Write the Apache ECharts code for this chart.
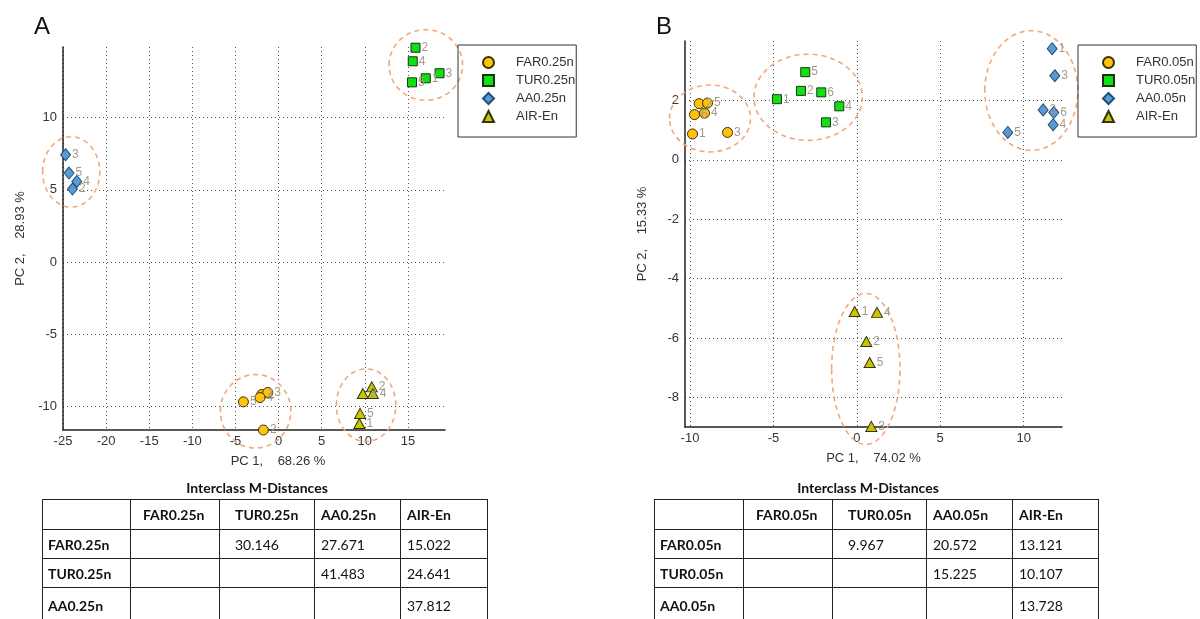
<!DOCTYPE html>
<html>
<head>
<meta charset="utf-8">
<title>PCA score plots and interclass M-distances</title>
<script src="https://cdn.jsdelivr.net/npm/echarts@6/dist/echarts.min.js"></script>
<style>
  html, body { margin: 0; padding: 0; background: #fff; }
  #wrap { position: relative; width: 1200px; height: 619px; overflow: hidden; }
  #chart { position: absolute; left: 0; top: 0; width: 1200px; height: 619px; }
  .ttl { position: absolute; font: bold 14px Lato, "Liberation Sans", sans-serif; color: #111;
         white-space: nowrap; transform: translate(-50%, -50%); }
  table.md { position: absolute; border-collapse: collapse; table-layout: fixed;
             font: 14px Lato, "Liberation Sans", sans-serif; color: #111; }
  table.md td { border: 1.5px solid #222; height: 28px; padding: 0 0 0 6px;
                white-space: nowrap; box-sizing: border-box; }
  table.md td.b { font-weight: bold; }
</style>
</head>
<body>
<div id="wrap">
  <div id="chart"></div>
</div>
<script>
// ---- PCA scores, panel A (0.25n) : [PC1, PC2, sample id]
const FAR_A = [[-1.95, -9.19, '1'], [-1.76, -11.65, '2'], [-1.25, -9.05, '3'], [-2.15, -9.40, '4'], [-4.08, -9.70, '5']];
const TUR_A = [[17.07, 12.73, '1'], [15.88, 14.85, '2'], [18.67, 13.08, '3'], [15.56, 13.91, '4'], [15.48, 12.45, '5']];
const AA_A  = [[-23.90, 5.05, '2'], [-24.70, 7.43, '3'], [-23.40, 5.58, '4'], [-24.30, 6.16, '5']];
const AIR_A = [[9.37, -11.20, '1'], [10.81, -8.66, '2'], [9.77, -9.12, '3'], [10.93, -9.12, '4'], [9.45, -10.50, '5']];

// ---- PCA scores, panel B (0.05n)
const FAR_B = [[-9.85, 0.87, '1'], [-9.45, 1.89, '2'], [-7.75, 0.92, '3'], [-9.13, 1.57, '4'], [-8.95, 1.91, '5'], [-9.73, 1.52, '6']];
const TUR_B = [[-4.79, 2.04, '1'], [-3.35, 2.32, '2'], [-1.85, 1.26, '3'], [-1.05, 1.80, '4'], [-3.09, 2.95, '5'], [-2.13, 2.27, '6']];
const AA_B  = [[11.71, 3.74, '1'], [11.17, 1.68, '2'], [11.87, 2.83, '3'], [11.77, 1.18, '4'], [9.05, 0.92, '5'], [11.81, 1.59, '6']];
const AIR_B = [[-0.13, -5.11, '1'], [0.57, -6.12, '2'], [0.87, -8.98, '3'], [1.21, -5.14, '4'], [0.77, -6.83, '5']];

// ---- class names
const NAMES_A = ['FAR0.25n', 'TUR0.25n', 'AA0.25n', 'AIR-En'];
const NAMES_B = ['FAR0.05n', 'TUR0.05n', 'AA0.05n', 'AIR-En'];

// ---- axis ticks
const XTICKS_A = [-25, -20, -15, -10, -5, 0, 5, 10, 15];
const YTICKS_A = [-10, -5, 0, 5, 10];
const XTICKS_B = [-10, -5, 0, 5, 10];
const YTICKS_B = [-8, -6, -4, -2, 0, 2];

// ---- axis titles
const XNAME_A = 'PC 1,    68.26 %';
const YNAME_A = 'PC 2,    28.93 %';
const XNAME_B = 'PC 1,    74.02 %';
const YNAME_B = 'PC 2,    15.33 %';

// ---- interclass Mahalanobis distances
const DIST_A = [[null, 30.146, 27.671, 15.022], [null, null, 41.483, 24.641], [null, null, null, 37.812]];
const DIST_B = [[null, 9.967, 20.572, 13.121], [null, null, 15.225, 10.107], [null, null, null, 13.728]];
const TABLE_TITLE = 'Interclass M-Distances';

// ---------------------------------------------------------------
const FONT = '"Liberation Sans", Arial, sans-serif';
const STYLES = [
  { symbol: 'circle',   size: 10,       color: '#ffc20e', border: '#3b3200' },
  { symbol: 'rect',     size: 9,        color: '#12e012', border: '#123512' },
  { symbol: 'diamond',  size: [10, 12], color: '#5b9bd5', border: '#1f4e79' },
  { symbol: 'triangle', size: [11, 10], color: '#c9c600', border: '#33330a' }
];

function pointSeries(name, data, k, axis) {
  const s = STYLES[k];
  return {
    type: 'scatter', name: name, xAxisIndex: axis, yAxisIndex: axis, z: 3,
    symbol: s.symbol, symbolSize: s.size, symbolKeepAspect: true,
    itemStyle: { color: s.color, borderColor: s.border, borderWidth: 1, opacity: 1 },
    label: {
      show: true, position: 'right', distance: 1,
      formatter: p => p.value[2], color: '#a69a86', fontSize: 12, fontFamily: FONT
    },
    emphasis: { disabled: true },
    data: data
  };
}

// bounding box of a cluster in data units
function clusterBox(pts) {
  const xs = pts.map(p => p[0]), ys = pts.map(p => p[1]);
  return [Math.min(...xs), Math.max(...xs), Math.min(...ys), Math.max(...ys)];
}

// dashed ellipse around each cluster, sized from its extent
function ellipseSeries(clusters, axis) {
  return {
    type: 'custom', xAxisIndex: axis, yAxisIndex: axis, silent: true, z: 2, clip: false,
    data: clusters.map(clusterBox),
    renderItem: function (params, api) {
      const a = api.coord([api.value(0), api.value(3)]);
      const b = api.coord([api.value(1), api.value(2)]);
      return {
        type: 'ellipse',
        shape: { cx: (a[0] + b[0]) / 2, cy: (a[1] + b[1]) / 2,
                 rx: (b[0] - a[0]) / 2 + 23, ry: (b[1] - a[1]) / 2 + 18 },
        style: { fill: null, stroke: '#f3a77a', lineWidth: 1.6, lineDash: [5, 4] }
      };
    }
  };
}

function xAxis(grid, min, max, ticks, name, shift) {
  return {
    type: 'value', gridIndex: grid, min: min, max: max,
    name: name, nameLocation: 'middle', nameGap: 25,
    nameTextStyle: { fontSize: 13, color: '#333', fontFamily: FONT, padding: [0, 0, 0, shift] },
    axisLine: { show: true, onZero: false, lineStyle: { color: '#222', width: 1.5 } },
    axisTick: { show: false, customValues: ticks },
    axisLabel: { customValues: ticks, fontSize: 13, color: '#333', fontFamily: FONT, margin: 5 },
    splitLine: { show: true, lineStyle: { color: '#555', width: 1, type: [1, 3] } }
  };
}
function yAxis(grid, min, max, ticks, name) {
  return {
    type: 'value', gridIndex: grid, min: min, max: max,
    name: name, nameLocation: 'middle', nameGap: 36, nameRotate: 90,
    nameTextStyle: { fontSize: 13, color: '#333', fontFamily: FONT },
    axisLine: { show: true, onZero: false, lineStyle: { color: '#222', width: 1.5 } },
    axisTick: { show: false, customValues: ticks },
    axisLabel: { customValues: ticks, fontSize: 13, color: '#333', fontFamily: FONT, margin: 6 },
    splitLine: { show: true, lineStyle: { color: '#555', width: 1, type: [1, 3] } }
  };
}
function legend(left, names) {
  return {
    show: true, orient: 'vertical', left: left, top: 45, data: names,
    borderColor: '#333', borderWidth: 1, padding: [11, 1, 14, 24],
    itemWidth: 11, itemHeight: 11, itemGap: 5,
    textStyle: { fontSize: 13, color: '#333', fontFamily: FONT, padding: [0, 0, 0, 17] },
    selectedMode: false
  };
}

const option = {
  animation: false,
  backgroundColor: '#fff',
  grid: [
    { left: 63,  top: 47, width: 382, height: 383 },
    { left: 685, top: 41, width: 377, height: 386 }
  ],
  xAxis: [
    xAxis(0, -25, 19.3, XTICKS_A, XNAME_A, 48),
    xAxis(1, -10.3, 12.3, XTICKS_B, XNAME_B, 0)
  ],
  yAxis: [
    yAxis(0, -11.65, 14.9, YTICKS_A, YNAME_A),
    yAxis(1, -9, 4, YTICKS_B, YNAME_B)
  ],
  legend: [legend(458, NAMES_A), legend(1078, NAMES_B)],
  graphic: [
    { type: 'text', left: 34, top: 15, style: { text: 'A', font: '24px ' + FONT, fill: '#111' } },
    { type: 'text', left: 656, top: 15, style: { text: 'B', font: '24px ' + FONT, fill: '#111' } }
  ],
  series: [
    ellipseSeries([FAR_A, TUR_A, AA_A, AIR_A], 0),
    ellipseSeries([FAR_B, TUR_B, AA_B, AIR_B], 1),
    pointSeries(NAMES_A[0], FAR_A, 0, 0),
    pointSeries(NAMES_A[1], TUR_A, 1, 0),
    pointSeries(NAMES_A[2], AA_A, 2, 0),
    pointSeries(NAMES_A[3], AIR_A, 3, 0),
    pointSeries(NAMES_B[0], FAR_B, 0, 1),
    pointSeries(NAMES_B[1], TUR_B, 1, 1),
    pointSeries(NAMES_B[2], AA_B, 2, 1),
    pointSeries(NAMES_B[3], AIR_B, 3, 1)
  ]
};

echarts.init(document.getElementById('chart'), null, { renderer: 'canvas' }).setOption(option);

// ---- distance tables
const wrap = document.getElementById('wrap');
function buildTable(left, colWidths, indents, names, dist, titleX) {
  const t = document.createElement('div');
  t.className = 'ttl';
  t.style.left = titleX + 'px';
  t.style.top = '487px';
  t.textContent = TABLE_TITLE;
  wrap.appendChild(t);

  const tbl = document.createElement('table');
  tbl.className = 'md';
  tbl.style.left = left + 'px';
  tbl.style.top = '499px';
  const cg = document.createElement('colgroup');
  colWidths.forEach(w => { const c = document.createElement('col'); c.style.width = w + 'px'; cg.appendChild(c); });
  tbl.appendChild(cg);

  const rows = [[''].concat(names)].concat(dist.map((r, i) => [names[i]].concat(r)));
  rows.forEach((r, ri) => {
    const tr = document.createElement('tr');
    r.forEach((v, ci) => {
      const td = document.createElement('td');
      if (ri === 0 || ci === 0) td.className = 'b';
      td.style.paddingLeft = indents[ci] + 'px';
      if (ri === rows.length - 1) td.style.height = '36px';
      else td.style.height = (ri === 0 ? 30 : 29) + 'px';
      td.textContent = (v === null || v === '') ? '' : (typeof v === 'number' ? v.toFixed(3) : v);
      tr.appendChild(td);
    });
    tbl.appendChild(tr);
  });
  wrap.appendChild(tbl);
}
buildTable(42, [88, 89, 95, 86, 87], [5, 12, 15, 6, 6], NAMES_A, DIST_A, 257);
buildTable(654, [89, 89, 94, 86, 86], [5, 12, 15, 6, 6], NAMES_B, DIST_B, 868);
</script>
</body>
</html>
